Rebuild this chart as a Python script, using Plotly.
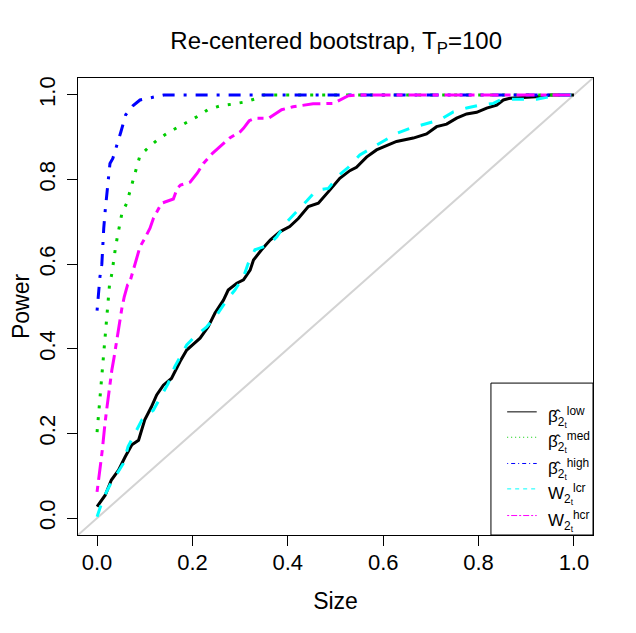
'''Power against size for the re-centered bootstrap, T_P = 100'''
import plotly.graph_objects as go

# curves: size (x) and power (y)
low_size = [0, 0.017, 0.030, 0.045, 0.059, 0.073, 0.087, 0.100, 0.114, 0.125, 0.139, 0.156,
            0.174, 0.188, 0.202, 0.216, 0.233, 0.247, 0.265, 0.275, 0.293, 0.307, 0.321, 0.328,
            0.345, 0.363, 0.384, 0.404, 0.422, 0.443, 0.464, 0.474, 0.488, 0.509, 0.530, 0.544,
            0.565, 0.586, 0.611, 0.628, 0.663, 0.691, 0.712, 0.733, 0.754, 0.775, 0.796, 0.817,
            0.838, 0.852, 0.866, 0.915, 0.929, 0.950, 1.0]
low_power = [0.027, 0.054, 0.090, 0.113, 0.145, 0.173, 0.184, 0.232, 0.263, 0.291, 0.314, 0.330,
             0.370, 0.397, 0.411, 0.425, 0.452, 0.484, 0.515, 0.539, 0.555, 0.563, 0.586, 0.610,
             0.634, 0.657, 0.677, 0.689, 0.708, 0.736, 0.744, 0.756, 0.775, 0.803, 0.821, 0.829,
             0.853, 0.870, 0.882, 0.890, 0.898, 0.908, 0.925, 0.931, 0.945, 0.955, 0.959, 0.969,
             0.976, 0.988, 0.992, 0.995, 0.996, 1.0, 1.0]

med_size = [0, 0.0025, 0.0046, 0.0075, 0.0096, 0.011, 0.013, 0.015, 0.017, 0.019, 0.021, 0.0235,
            0.026, 0.031, 0.034, 0.038, 0.042, 0.047, 0.052, 0.062, 0.069, 0.075, 0.083, 0.090,
            0.107, 0.128, 0.149, 0.170, 0.193, 0.212, 0.232, 0.258, 0.282, 0.308, 0.330, 0.349, 1.0]
med_power = [0.203, 0.238, 0.265, 0.295, 0.322, 0.350, 0.380, 0.407, 0.437, 0.464, 0.492, 0.522,
             0.550, 0.578, 0.608, 0.634, 0.661, 0.691, 0.720, 0.744, 0.771, 0.799, 0.828, 0.857,
             0.875, 0.895, 0.911, 0.924, 0.937, 0.950, 0.965, 0.974, 0.978, 0.983, 0.990, 1.0, 1.0]

high_size = [0, 0.004, 0.006, 0.010, 0.012, 0.014, 0.017, 0.020, 0.024, 0.027, 0.033, 0.040,
             0.050, 0.060, 0.075, 0.090, 0.117, 0.140, 1.0]
high_power = [0.490, 0.540, 0.570, 0.600, 0.650, 0.685, 0.726, 0.764, 0.800, 0.838, 0.850, 0.875,
              0.913, 0.953, 0.974, 0.988, 0.995, 1.0, 1.0]

lcr_size = [0, 0.013, 0.027, 0.041, 0.055, 0.065, 0.080, 0.094, 0.118, 0.135, 0.149, 0.163,
            0.188, 0.205, 0.230, 0.251, 0.272, 0.289, 0.307, 0.317, 0.331, 0.359, 0.377, 0.398,
            0.422, 0.440, 0.460, 0.485, 0.506, 0.527, 0.551, 0.576, 0.600, 0.628, 0.656, 0.691,
            0.719, 0.747, 0.775, 0.803, 0.831, 0.845, 0.866, 0.922, 0.950, 0.960, 1.0]
lcr_power = [0.003, 0.047, 0.078, 0.102, 0.129, 0.169, 0.200, 0.232, 0.255, 0.291, 0.318, 0.358,
             0.409, 0.429, 0.452, 0.480, 0.515, 0.539, 0.570, 0.602, 0.634, 0.645, 0.665, 0.700,
             0.728, 0.750, 0.775, 0.779, 0.809, 0.829, 0.858, 0.874, 0.890, 0.909, 0.921, 0.933,
             0.941, 0.960, 0.969, 0.976, 0.980, 0.988, 0.990, 0.990, 0.996, 1.0, 1.0]

hcr_size = [0, 0.0046, 0.0075, 0.011, 0.0145, 0.0166, 0.020, 0.0235, 0.027, 0.031, 0.0354, 0.0396,
            0.044, 0.048, 0.052, 0.057, 0.064, 0.068, 0.075, 0.082, 0.090, 0.100, 0.111, 0.118,
            0.125, 0.135, 0.160, 0.168, 0.175, 0.195, 0.210, 0.223, 0.242, 0.259, 0.279, 0.300,
            0.307, 0.319, 0.331, 0.360, 0.387, 0.411, 0.453, 0.495, 0.513, 0.527, 0.547, 1.0]
hcr_power = [0.062, 0.098, 0.129, 0.161, 0.192, 0.224, 0.255, 0.287, 0.318, 0.350, 0.378, 0.409,
             0.437, 0.464, 0.496, 0.523, 0.551, 0.555, 0.582, 0.614, 0.641, 0.661, 0.685, 0.708,
             0.724, 0.744, 0.754, 0.779, 0.787, 0.794, 0.815, 0.838, 0.862, 0.879, 0.899, 0.913,
             0.921, 0.939, 0.945, 0.945, 0.965, 0.972, 0.979, 0.980, 0.990, 0.998, 1.0, 1.0]

legend_labels = ['β̂<sub>2<sub>t</sub></sub><sup>low</sup>',
                 'β̂<sub>2<sub>t</sub></sub><sup>med</sup>',
                 'β̂<sub>2<sub>t</sub></sub><sup>high</sup>',
                 'W<sub>2<sub>t</sub></sub><sup>lcr</sup>',
                 'W<sub>2<sub>t</sub></sub><sup>hcr</sup>']

tick_vals = [0.0, 0.2, 0.4, 0.6, 0.8, 1.0]
axis_range = [-0.04, 1.04]

# R style line types: colour, dash in the plot (lwd 3), dash in the legend (lwd 1)
styles = [
    ('black', 'solid', 'solid'),
    ('#00CD00', '3px,9px', '1px,3px'),
    ('#0000FF', '3px,9px,12px,9px', '1px,3px,4px,3px'),
    ('#00FFFF', '12px,12px', '4px,4px'),
    ('#FF00FF', '6px,6px,18px,6px', '2px,2px,6px,2px'),
]
curves = [(low_size, low_power), (med_size, med_power), (high_size, high_power),
          (lcr_size, lcr_power), (hcr_size, hcr_power)]

font = 'Liberation Sans, Arial, sans-serif'

fig = go.Figure()

# 45 degree reference line across the whole panel
fig.add_trace(go.Scatter(x=axis_range, y=axis_range, mode='lines',
                         line=dict(color='#D3D3D3', width=2), showlegend=False))

for (xs, ys), (col, dash, _) in zip(curves, styles):
    fig.add_trace(go.Scatter(x=xs, y=ys, mode='lines',
                             line=dict(color=col, width=3, dash=dash), showlegend=False))

# legend drawn by hand in the bottom right corner, like R's legend()
shapes = [dict(type='rect', xref='x', yref='y', x0=0.826, x1=1.04, y0=-0.04, y1=0.319,
               line=dict(color='black', width=1), fillcolor='white', layer='above')]
annotations = []
entry_y = [0.251, 0.191, 0.129, 0.069, 0.006]
for ey, (col, _, ldash), label in zip(entry_y, styles, legend_labels):
    shapes.append(dict(type='line', xref='x', yref='y', x0=0.860, x1=0.922, y0=ey, y1=ey,
                       line=dict(color=col, width=1, dash=ldash), layer='above'))
    annotations.append(dict(x=0.942, y=ey - 0.012, xref='x', yref='y', text=label,
                            showarrow=False, xanchor='left', yanchor='middle',
                            font=dict(family=font, size=17, color='black')))

axis_style = dict(range=axis_range, tickvals=tick_vals, tickformat='.1f', automargin=False,
                  showgrid=False, zeroline=False, showline=True, mirror=True,
                  linecolor='black', linewidth=1, ticks='outside', ticklen=10,
                  tickcolor='black', tickfont=dict(family=font, size=22, color='black'))

fig.update_layout(
    width=636, height=633,
    paper_bgcolor='white', plot_bgcolor='white',
    margin=dict(l=70, r=51, t=70, b=106),
    title=dict(text='Re-centered bootstrap, T<sub>P</sub>=100', x=0.516, y=0.949,
               xanchor='center', yanchor='middle',
               font=dict(family=font, size=24, color='black')),
    xaxis=dict(axis_style, ticklabelstandoff=-2,
               title=dict(text='Size', standoff=18,
                          font=dict(family=font, size=23, color='black'))),
    yaxis=dict(axis_style, tickangle=-90, ticklabelstandoff=3,
               title=dict(text='Power', standoff=15,
                          font=dict(family=font, size=23, color='black'))),
    shapes=shapes,
    annotations=annotations,
)

fig.write_html("out.html")
